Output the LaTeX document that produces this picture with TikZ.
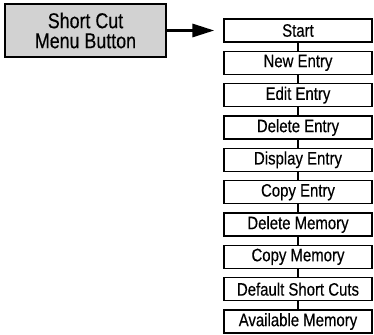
\documentclass[tikz,border=0pt]{standalone}
\usepackage{fontspec}
\setmainfont{Liberation Sans}
\newfontfamily\narrowfont[FakeStretch=0.83,FakeBold=0.4]{Liberation Sans}
\newfontfamily\btnfont[FakeStretch=0.83,FakeBold=0.4]{Liberation Sans}
\usetikzlibrary{arrows.meta}
\definecolor{btngray}{RGB}{210,210,210}
\tikzset{
  btnbox/.style={draw=black, line width=2.2pt, fill=btngray, minimum width=161pt, minimum height=53pt,
    inner sep=0pt, align=center, font=\btnfont\fontsize{21.5}{20}\selectfont},
  menubox/.style={draw=black, line width=1.3pt, fill=white, minimum width=148pt, minimum height=23pt,
    inner sep=0pt, font=\narrowfont\fontsize{18}{18}\selectfont},
  link/.style={line width=1.6pt},
  bigarrow/.style={line width=3pt, -{Triangle[length=22pt,width=13pt]}, shorten >=9pt}
}
\begin{document}
\begin{tikzpicture}[x=1pt,y=-1pt]
\useasboundingbox (0,0) rectangle (374,334);
\node[btnbox] (btn) at (85.5,30.5) {Short Cut\\Menu Button};
\node[menubox] (m0) at (298,30.5) {Start};
\node[menubox] (m1) at (298,62.83) {New Entry};
\node[menubox] (m2) at (298,95.17) {Edit Entry};
\node[menubox] (m3) at (298,127.5) {Delete Entry};
\node[menubox] (m4) at (298,159.83) {Display Entry};
\node[menubox] (m5) at (298,192.17) {Copy Entry};
\node[menubox] (m6) at (298,224.5) {Delete Memory};
\node[menubox] (m7) at (298,256.83) {Copy Memory};
\node[menubox] (m8) at (298,289.17) {Default Short Cuts};
\node[menubox] (m9) at (298,321.5) {Available Memory};
\foreach \a/\b in {m0/m1,m1/m2,m2/m3,m3/m4,m4/m5,m5/m6,m6/m7,m7/m8,m8/m9}
  \draw[link] (\a.south) -- (\b.north);
\draw[bigarrow] (btn.east) -- (m0.west);
\end{tikzpicture}
\end{document}
